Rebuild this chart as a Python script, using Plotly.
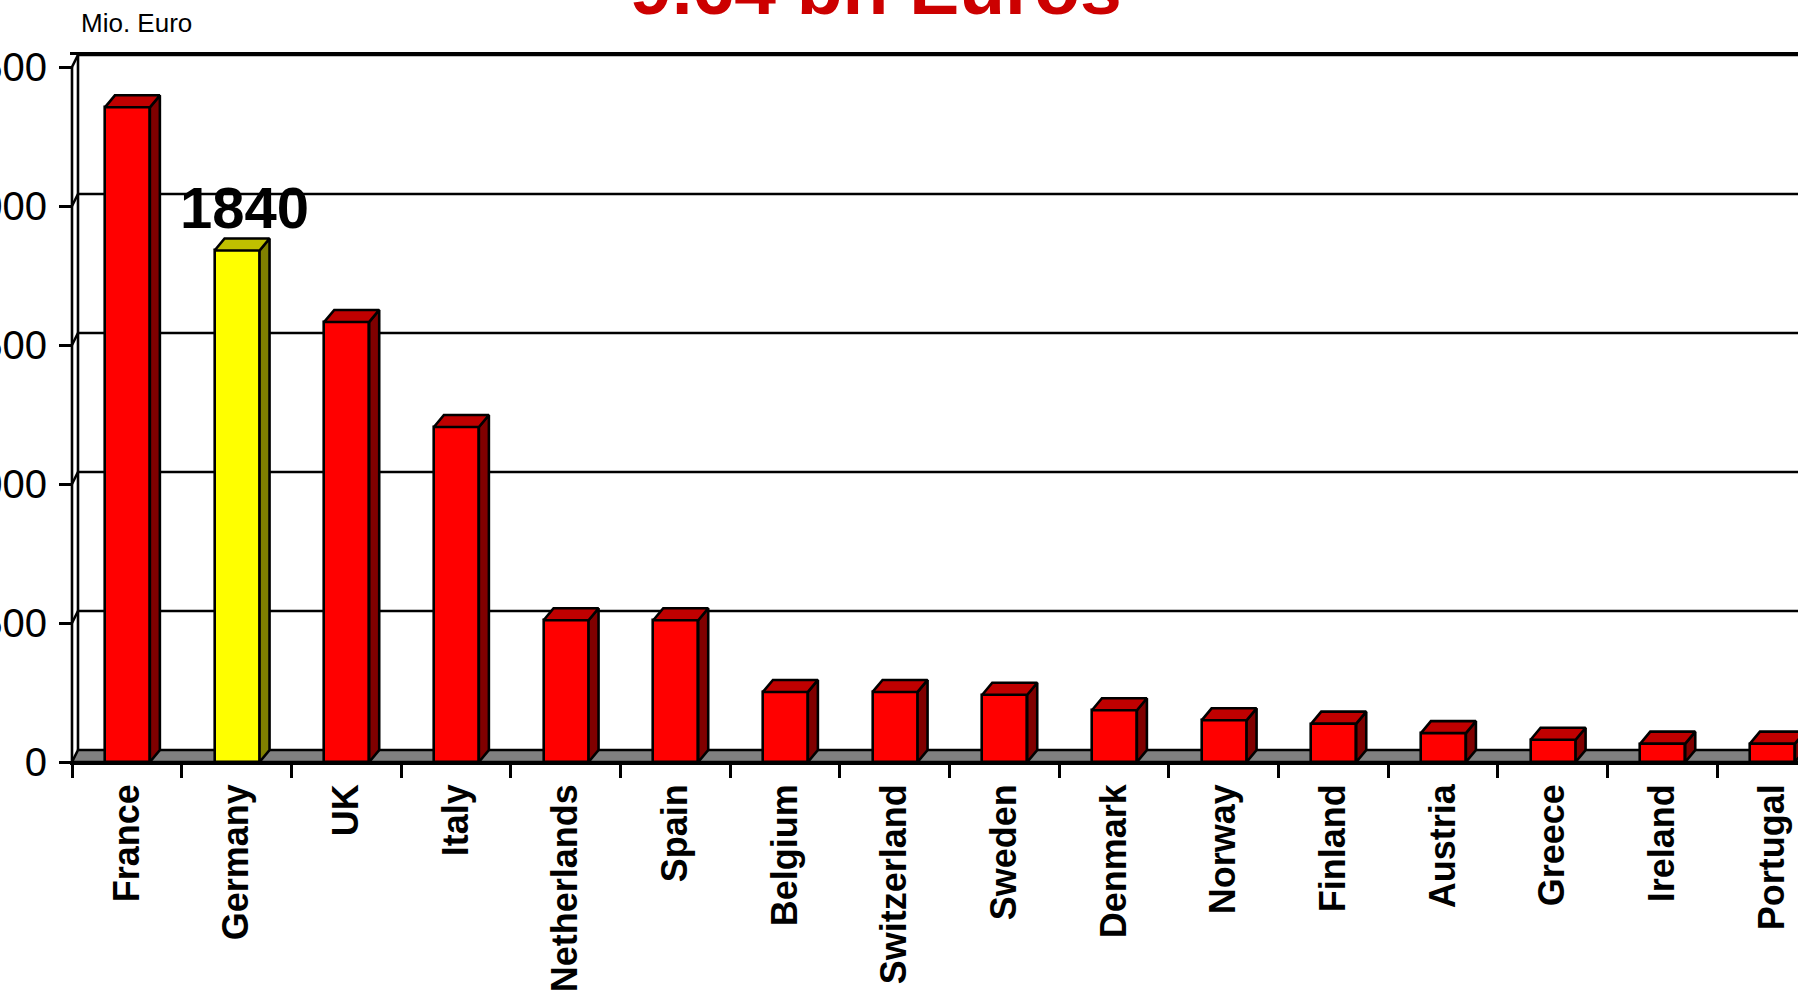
import plotly.graph_objects as go

# ---------------- data ----------------
countries = ["France", "Germany", "UK", "Italy", "Netherlands", "Spain", "Belgium",
             "Switzerland", "Sweden", "Denmark", "Norway", "Finland", "Austria",
             "Greece", "Ireland", "Portugal"]
values = [2355, 1840, 1583, 1205, 510, 510, 252, 252, 242, 186, 150, 138, 104, 80, 66, 66]
highlight = "Germany"
y_ticks = [0, 500, 1000, 1500, 2000, 2500]
unit_label = "Mio. Euro"
title_text = "9.64 bn Euros"

# ---------------- layout geometry ----------------
W, H = 1798, 995
L, R, T, B = 70, 1798, 55, 762          # plot area in pixels
CAT_PX = 109.67                          # pixels per category
PX_PER_UNIT = 139 / 500                  # pixels per value unit
AXIS_PX = 72                             # pixel x of the front value axis

x_lo = -0.5 - (AXIS_PX - L) / CAT_PX
x_hi = x_lo + (R - L) / CAT_PX
y_hi = (B - T) / PX_PER_UNIT

BAR_W, BAR_OFF = 0.41, -0.2
BAR_DX, BAR_DY = 10 / CAT_PX, 12 / PX_PER_UNIT
WALL_DX, WALL_DY = 6 / CAT_PX, 12 / PX_PER_UNIT

RED, RED_TOP, RED_SIDE = "#FF0000", "#C00000", "#800000"
YEL, YEL_TOP, YEL_SIDE = "#FFFF00", "#C0C000", "#808000"
LW = 2.6
FONT = "Liberation Sans, Arial, sans-serif"

n = len(countries)
idx = list(range(n))
hi = countries.index(highlight)
front_cols = [YEL if c == highlight else RED for c in countries]

fig = go.Figure()

# ---------------- back wall, gridlines, floor (shapes below traces) ----------------
shapes = []
wall_x = -0.5 + WALL_DX
for v in y_ticks[1:]:
    shapes.append(dict(type="path", xref="x", yref="y", layer="below",
                       path=f"M {-0.5},{v} L {wall_x},{v + WALL_DY} L {x_hi + 1},{v + WALL_DY}",
                       line=dict(color="black", width=LW)))
shapes.append(dict(type="line", xref="x", yref="y", layer="below",
                   x0=wall_x, x1=wall_x, y0=WALL_DY, y1=y_ticks[-1] + WALL_DY,
                   line=dict(color="black", width=LW)))
shapes.append(dict(type="path", xref="x", yref="y", layer="below",
                   path=(f"M {-0.5},0 L {x_hi + 1},0 L {x_hi + 1},{WALL_DY} "
                         f"L {wall_x},{WALL_DY} Z"),
                   fillcolor="#808080", line=dict(color="black", width=LW)))
shapes.append(dict(type="line", xref="x", yref="y", layer="below",
                   x0=-0.5, x1=-0.5, y0=0, y1=y_ticks[-1],
                   line=dict(color="black", width=LW)))

# ---------------- front faces ----------------
fig.add_trace(go.Bar(
    x=idx, y=values, width=BAR_W, offset=BAR_OFF,
    marker=dict(color=front_cols, line=dict(color="black", width=LW)),
    hoverinfo="skip", showlegend=False))

# ---------------- side and top faces ----------------
for i, v in enumerate(values):
    xl = i + BAR_OFF
    xr = xl + BAR_W
    side_col = YEL_SIDE if i == hi else RED_SIDE
    top_col = YEL_TOP if i == hi else RED_TOP
    fig.add_trace(go.Scatter(
        x=[xr, xr + BAR_DX, xr + BAR_DX, xr, xr],
        y=[0, BAR_DY, v + BAR_DY, v, 0],
        mode="lines", fill="toself", fillcolor=side_col,
        line=dict(color="black", width=LW), hoverinfo="skip", showlegend=False))
    fig.add_trace(go.Scatter(
        x=[xl, xl + BAR_DX, xr + BAR_DX, xr, xl],
        y=[v, v + BAR_DY, v + BAR_DY, v, v],
        mode="lines", fill="toself", fillcolor=top_col,
        line=dict(color="black", width=LW), hoverinfo="skip", showlegend=False))

# ---------------- annotations ----------------
annotations = [
    dict(x=hi + 0.07, y=values[hi], xref="x", yref="y", text=str(values[hi]),
         showarrow=False, xanchor="center", yanchor="bottom", yshift=8,
         font=dict(family=FONT, size=58, color="black", weight="bold")),
    dict(x=(876 - L) / (R - L), y=1, xref="paper", yref="paper", text=title_text,
         showarrow=False, xanchor="center", yanchor="bottom", yshift=23,
         font=dict(family=FONT, size=75, color="#CC0000", weight="bold")),
    dict(x=(79 - L) / (R - L), y=1, xref="paper", yref="paper", text=unit_label,
         showarrow=False, xanchor="left", yanchor="bottom", yshift=15,
         font=dict(family=FONT, size=26, color="black")),
]

fig.update_layout(
    width=W, height=H,
    margin=dict(l=L, r=W - R, t=T, b=H - B, pad=0, autoexpand=False),
    paper_bgcolor="white", plot_bgcolor="white",
    bargap=0, showlegend=False,
    shapes=shapes, annotations=annotations,
    xaxis=dict(
        range=[x_lo, x_hi], showgrid=False, zeroline=False, automargin=False,
        showline=True, mirror=True, linecolor="black", linewidth=LW,
        tickmode="array", tickvals=idx, ticktext=countries, ticks="",
        tickangle=-90, ticklabelstandoff=5,
        tickfont=dict(family=FONT, size=36, color="black", weight="bold"),
        minor=dict(tickmode="array", tickvals=[i - 0.5 for i in range(n + 1)],
                   ticks="outside", ticklen=13, tickwidth=LW, tickcolor="black",
                   showgrid=False),
    ),
    yaxis=dict(
        range=[0, y_hi], showgrid=False, zeroline=False, showline=False,
        automargin=False,
        anchor="free", position=(AXIS_PX - L) / (R - L),
        tickmode="array", tickvals=y_ticks, ticktext=[str(t) for t in y_ticks],
        ticks="outside", ticklen=13, tickwidth=LW, tickcolor="black",
        ticklabelstandoff=4,
        tickfont=dict(family=FONT, size=40, color="black"),
    ),
)

fig.write_html("out.html", config={"displayModeBar": False},
               post_script="document.body.style.margin='0';")
